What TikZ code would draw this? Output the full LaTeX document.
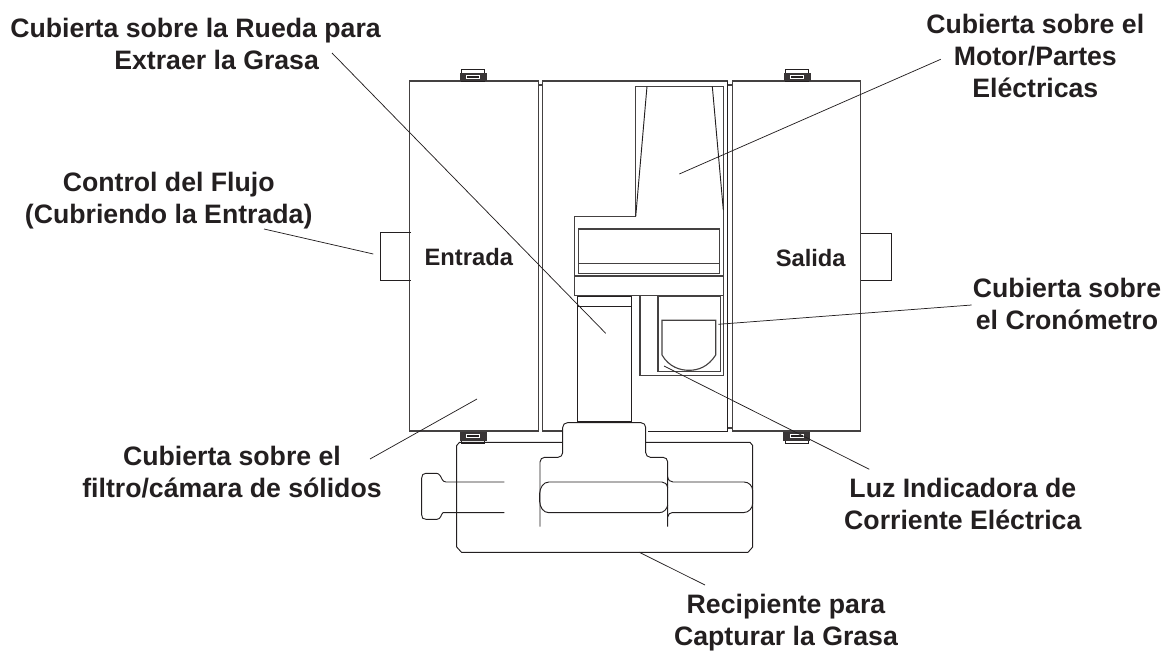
\documentclass[tikz,border=0pt]{standalone}
\usepackage{fontspec}
\setmainfont{Liberation Sans}
\definecolor{ink}{HTML}{231F20}
\tikzset{
  x=0.75pt,y=-0.75pt,
  part/.style={draw=ink!85,line width=0.85pt,line join=miter},
  thinpart/.style={draw=ink,line width=0.7pt},
  leader/.style={draw=ink,line width=0.55pt},
  callout/.style={text=ink,font=\fontsize{20}{24}\selectfont\bfseries,align=center,inner sep=0pt},
  portlabel/.style={text=ink,font=\fontsize{17.8}{20}\selectfont\bfseries,inner sep=0pt,anchor=base},
  hinge/.pic={
    \draw[ink,line width=0.7pt] (-11.5,-11.5) rectangle (11.5,0);
    \fill[ink!90] (-13.5,-8.5) rectangle (13.5,0);
    \fill[white] (-7,-6.4) rectangle (7,-2.2);
    \fill[ink] (-6,-5.4) rectangle (6,-3.2);
  }
}
\begin{document}
\begin{tikzpicture}
\useasboundingbox (0,0) rectangle (1163,650);

% panels
\draw[part] (409.3,81) rectangle (538.7,431);
\draw[part] (732.7,81) rectangle (860.7,431);
\draw[part] (538.7,85) -- (542.7,85);
\draw[part] (727.7,85) -- (732.7,85) (727.7,428) -- (732.7,428);
\draw[part] (562.7,431) -- (542.7,431) -- (542.7,81) -- (727.7,81);
\draw[thinpart] (727.7,81) -- (727.7,431) -- (647.7,431);
% tabs
\draw[thinpart] (411,232.7) -- (380,232.7) -- (380,280.3) -- (411,280.3);
\draw[thinpart] (860.7,233.3) -- (891.7,233.3) -- (891.7,280) -- (860.7,280);
% motor housing
\draw[part] (635.7,216.7) -- (635.7,86.3) -- (723.3,86.3) -- (723.3,295.3) -- (574.7,295.3) -- (574.7,216.7) -- cycle;
\draw[thinpart] (647,86.3) -- (635.7,216.7);
\draw[thinpart] (712.3,86.3) -- (723.3,210);
\draw[part] (574.7,276) -- (723.3,276);
\draw[part] (578.7,229) rectangle (719.3,273.3);
\draw[part] (578.7,263.3) -- (719.3,263.3);
% wheel cover
\draw[thinpart] (577.3,296.7) rectangle (631.7,421.3);
\draw[thinpart] (577.3,306.3) -- (631.7,306.3);
% timer
\draw[part] (640,295.3) -- (640,375.7) -- (723.3,375.7) -- (723.3,295.3);
\draw[part] (658,296.7) rectangle (720.3,371.3);
\draw[part] (662,355) -- (662,320.3) -- (715.7,320.3) -- (715.7,355) .. controls (708,367) and (698,370.3) .. (689,370.3) .. controls (680,370.3) and (669,367) .. (662,355);
% hinges
\pic at (473.3,81) {hinge};
\pic at (797,81) {hinge};
\pic[yscale=-1] at (473.3,432) {hinge};
\pic[yscale=-1] at (796.7,432) {hinge};
% grease tank
\draw[thinpart] (562.7,442.3) -- (459.5,442.3) -- (456.7,445.5) -- (456.7,547) -- (461.5,552.3) -- (748,552.3) -- (752.7,547) -- (752.7,445.5) -- (750,442.3) -- (645.7,442.3);
\draw[thinpart,rounded corners=3.5pt] (540,526.7) -- (540,457.3) -- (562.7,457.3) -- (562.7,422.7) -- (645.7,422.7) -- (645.7,457.3) -- (667.7,457.3) -- (667.7,526.7);
% handle
\draw[thinpart] (504.3,482) -- (446,482) .. controls (442,482) and (441.5,477) .. (440,475.5) .. controls (439,474) and (438,473.3) .. (436,473.3) -- (426,473.3) .. controls (423,473.3) and (421.7,475) .. (421.7,478) -- (421.7,515) .. controls (421.7,518) and (423,519.3) .. (426,519.3) -- (437,519.3) .. controls (441,519.3) and (441,514) .. (443,512.7) -- (504.3,512.7);
% pills
\draw[thinpart] (667.7,488) .. controls (667,484) and (665,482) .. (662,482) -- (549,482) .. controls (543,482) and (540,488) .. (539.7,493) -- (539.7,501.7) .. controls (540,507) and (543,512.7) .. (549,512.7) -- (659,512.7) .. controls (664,512.7) and (667,509) .. (667.7,505);
\draw[thinpart] (667.7,476.7) .. controls (668,480) and (670,482) .. (673,482) -- (744,482) .. controls (749,482) and (752.7,486) .. (752.7,491) -- (752.7,503) .. controls (752.7,508) and (749,512.7) .. (743,512.7) -- (672,512.7) .. controls (670,512.7) and (668,514) .. (667.7,517);

% port labels
\node[portlabel] (entrada) at (468.8,265.7) {Entrada};
\node[portlabel] (salida) at (810.7,266.7) {Salida};

% callouts
\node[callout] (rueda) at (195.5,44) {Cubierta sobre la Rueda para\\\hspace*{31.7pt}Extraer la Grasa};
\node[callout] (motor) at (1035.3,56) {Cubierta sobre el\\Motor/Partes\\Eléctricas};
\node[callout] (flujo) at (168.7,200.5) {Control del Flujo\\(Cubriendo la Entrada)};
\node[callout] (crono) at (1067,303.5) {Cubierta sobre\\el Cronómetro};
\node[callout] (filtro) at (232,472.5) {Cubierta sobre el\\filtro/cámara de sólidos};
\node[callout] (luz) at (962.8,503.5) {Luz Indicadora de\\Corriente Eléctrica};
\node[callout] (recip) at (786,622.5) {Recipiente para\\Capturar la Grasa};

% leader ends
\coordinate (ruedaA) at (332,53);   \coordinate (ruedaB) at (605.7,333.3);
\coordinate (motorA) at (940.7,59.3); \coordinate (motorB) at (679.3,174);
\coordinate (flujoA) at (264,229);  \coordinate (flujoB) at (373.3,254);
\coordinate (cronoA) at (971.7,305);  \coordinate (cronoB) at (718.3,324.3);
\coordinate (filtroA) at (370,459); \coordinate (filtroB) at (477,399);
\coordinate (luzA) at (869.3,469.3);  \coordinate (luzB) at (664,366);
\coordinate (recipA) at (705,585); \coordinate (recipB) at (639.3,552.3);
\draw[leader] (ruedaA) -- (ruedaB);
\draw[leader] (motorA) -- (motorB);
\draw[leader] (flujoA) -- (flujoB);
\draw[leader] (cronoA) -- (cronoB);
\draw[leader] (filtroA) -- (filtroB);
\draw[leader] (luzA) -- (luzB);
\draw[leader] (recipA) -- (recipB);
\end{tikzpicture}
\end{document}
